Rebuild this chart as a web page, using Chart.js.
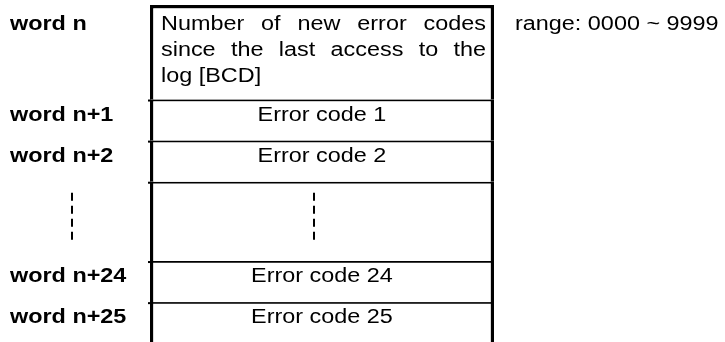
<!DOCTYPE html>
<html>
<head>
<meta charset="utf-8">
<script src="https://cdn.jsdelivr.net/npm/chart.js@4"></script>
<style>
    body { margin: 0; background: #fff; }
    #wrap { width: 725px; height: 342px; position: relative; }
</style>
</head>
<body>
<div id="wrap"><canvas id="c"></canvas></div>
<script>
// one entry per row of the word table
var wordLabels = ['word n', 'word n+1', 'word n+2', '', 'word n+24', 'word n+25'];
var cellTexts = [
    'Number of new error codes\nsince the last access to the\nlog [BCD]',
    'Error code 1',
    'Error code 2',
    '',
    'Error code 24',
    'Error code 25'
];
var cellNotes = ['range: 0000 ~ 9999', '', '', '', '', ''];
// height of each row, in units of one single-line row
var rowSpans = [2.3, 1, 1, 1.93, 1, 1];
var gapRow = 3;

var FONT = '"Liberation Sans", Arial, sans-serif';
var SX = 1.17; // the reference text is stretched horizontally

function stretchedText(ctx, text, x, y, align) {
    ctx.save();
    ctx.translate(x, y);
    ctx.scale(SX, 1);
    ctx.textAlign = align;
    ctx.fillText(text, 0, 0);
    ctx.restore();
}

// lines come pre-broken; all but the last are justified
function justifiedLines(ctx, text, x0, x1, y, lineH) {
    var w = function (s) { return ctx.measureText(s).width * SX; };
    var lines = text.split('\n');
    lines.forEach(function (line, i) {
        var yy = y + i * lineH;
        var ln = line.split(' ');
        if (i === lines.length - 1 || ln.length === 1) {
            stretchedText(ctx, line, x0, yy, 'left');
            return;
        }
        var total = 0;
        ln.forEach(function (wd) { total += w(wd); });
        var gap = (x1 - x0 - total) / (ln.length - 1);
        var x = x0;
        ln.forEach(function (wd) {
            stretchedText(ctx, wd, x, yy, 'left');
            x += w(wd) + gap;
        });
    });
}

var tableText = {
    id: 'tableText',
    afterDatasetsDraw: function (chart) {
        var ctx = chart.ctx;
        var y = chart.scales.y;
        var area = chart.chartArea;
        var start = 0;
        ctx.save();
        ctx.fillStyle = '#000';
        ctx.textBaseline = 'alphabetic';
        rowSpans.forEach(function (span, i) {
            var top = y.getPixelForValue(start);
            var bot = y.getPixelForValue(start + span);
            var base = top + (i === 0 ? 25 : 21);
            ctx.font = 'bold 20px ' + FONT;
            if (wordLabels[i]) stretchedText(ctx, wordLabels[i], 10, base, 'left');
            ctx.font = '20px ' + FONT;
            if (cellTexts[i]) {
                if (cellTexts[i].indexOf('\n') >= 0) {
                    justifiedLines(ctx, cellTexts[i], area.left + 11, area.right - 8, base, 26);
                } else {
                    stretchedText(ctx, cellTexts[i], (area.left + area.right) / 2, base, 'center');
                }
            }
            if (cellNotes[i]) stretchedText(ctx, cellNotes[i], area.right + 21, base, 'left');
            if (i === gapRow) {
                ctx.save();
                ctx.strokeStyle = '#000';
                ctx.lineWidth = 2;
                ctx.setLineDash([8, 5]);
                [72, (area.left + area.right) / 2 - 8].forEach(function (x) {
                    ctx.beginPath();
                    ctx.moveTo(x, top + 11);
                    ctx.lineTo(x, bot - 19);
                    ctx.stroke();
                });
                ctx.restore();
            }
            // divider lines poke out a little left of the box
            if (i > 0) {
                ctx.fillRect(area.left - 2, top, 3, 2);
            }
            start += span;
        });
        ctx.restore();
    }
};

var datasets = rowSpans.map(function (span, i) {
    return {
        label: wordLabels[i] || 'gap',
        data: [span],
        backgroundColor: '#fff',
        borderColor: '#000',
        borderSkipped: false,
        borderWidth: { top: i === 0 ? 3.5 : 2, bottom: 0, left: 3.5, right: 3.5 },
        barPercentage: 1,
        categoryPercentage: 1
    };
});

var chart = new Chart(document.getElementById('c'), {
    type: 'bar',
    data: { labels: [''], datasets: datasets },
    options: {
        responsive: true,
        maintainAspectRatio: false,
        animation: false,
        layout: { padding: { left: 150, right: 231, top: 5, bottom: 0 } },
        plugins: { legend: { display: false }, tooltip: { enabled: false } },
        scales: {
            x: { display: false, stacked: true },
            y: { display: false, stacked: true, reverse: true, min: 0, max: 8.2 }
        }
    },
    plugins: [tableText]
});
</script>
</body>
</html>
